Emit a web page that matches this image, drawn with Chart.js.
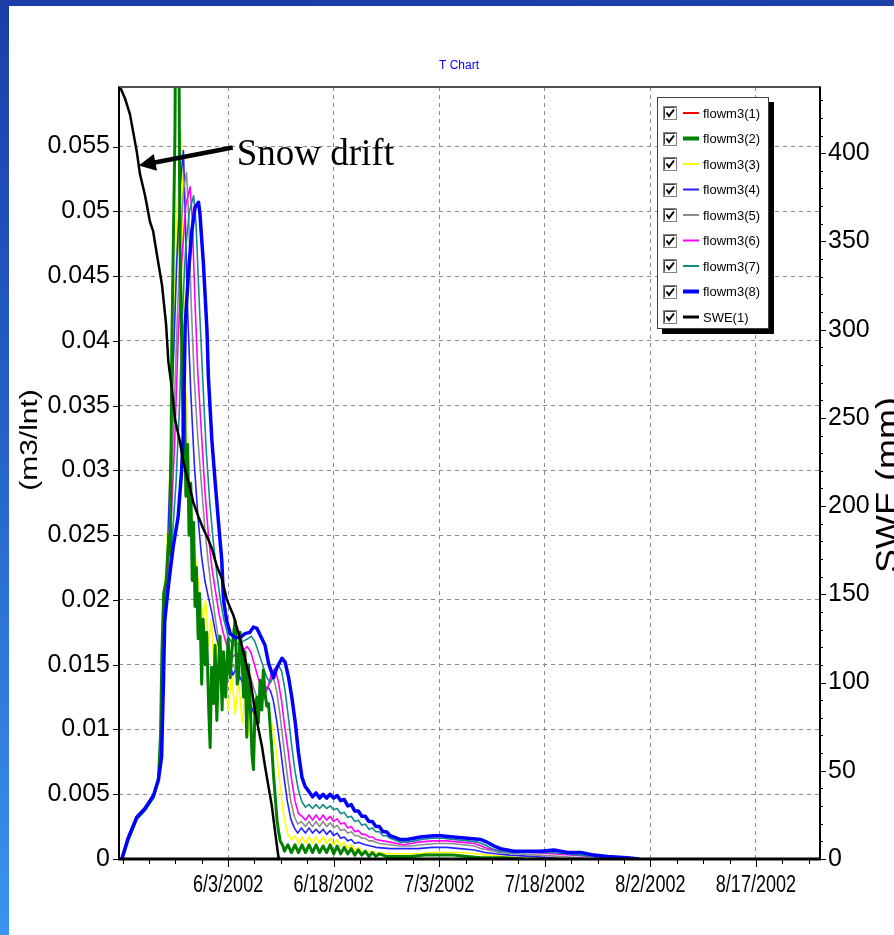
<!DOCTYPE html>
<html>
<head>
<meta charset="utf-8">
<title>T Chart</title>
<script src="https://cdn.jsdelivr.net/npm/chart.js@4.4.1/dist/chart.umd.min.js"></script>
<style>
  html, body { margin: 0; padding: 0; }
  body { width: 894px; height: 935px; overflow: hidden; position: relative; background: #ffffff; }
  #topBand { position: absolute; left: 0; top: 0; width: 894px; height: 6px; background: linear-gradient(90deg, #1a3ea6, #1b40aa); }
  #leftBand { position: absolute; left: 0; top: 0; width: 9px; height: 935px; background: linear-gradient(180deg, #1b3fa6 0%, #2560c6 45%, #3a93f2 100%); }
  #chart { position: absolute; left: 0; top: 0; }
</style>
</head>
<body>
<div id="topBand"></div>
<div id="leftBand"></div>
<canvas id="chart" width="894" height="935"></canvas>
<script>
// ---- axis ticks (day of year 2002 on the x axis) ----
const dayTicks = [154, 169, 184, 199, 214, 229];
const dayTickLabels = ['6/3/2002', '6/18/2002', '7/3/2002', '7/18/2002', '8/2/2002', '8/17/2002'];
const flowTicks = [0, 0.005, 0.01, 0.015, 0.02, 0.025, 0.03, 0.035, 0.04, 0.045, 0.05, 0.055];
const flowTickLabels = ['0', '0.005', '0.01', '0.015', '0.02', '0.025', '0.03', '0.035', '0.04', '0.045', '0.05', '0.055'];
const sweTicks = [0, 50, 100, 150, 200, 250, 300, 350, 400];
const sweTickLabels = ['0', '50', '100', '150', '200', '250', '300', '350', '400'];

// ---- series names ----
const seriesLabels = ['flowm3(1)', 'flowm3(2)', 'flowm3(3)', 'flowm3(4)', 'flowm3(5)', 'flowm3(6)', 'flowm3(7)', 'flowm3(8)', 'SWE(1)'];

// ---- flow series: [day of year, m3/Int] ----
const flowm3_1 = [[138.9,0],[139.8,0.0015],[141.0,0.0031],[142.2,0.0038],[143.4,0.0048],[144.1,0.0062],[144.4,0.0095],[144.6,0.0160],[144.85,0.0205],[145.2,0.0215],[145.6,0.0250],[145.8,0.0235],[146.0,0.0395],[146.2,0.0468],[146.45,0.0560],[146.6,0.0700],[146.95,0.0700],[147.15,0.0480],[147.4,0.0400],[147.6,0.0330],[147.8,0.0360],[148.0,0.0280],[148.25,0.0320],[148.45,0.0250],[148.7,0.0290],[148.9,0.0215],[149.1,0.0260],[149.3,0.0195],[149.5,0.0225],[149.75,0.0170],[149.95,0.0205],[150.25,0.0135],[150.45,0.0185],[150.75,0.0150],[150.95,0.0175],[151.25,0.0115],[151.45,0.0086],[151.65,0.0148],[151.95,0.0120],[152.15,0.0165],[152.4,0.0107],[152.65,0.0150],[152.85,0.0172],[153.15,0.0115],[153.35,0.0160],[153.65,0.0125],[154.0,0.0170],[154.3,0.0140],[154.6,0.0165],[155.0,0.0184],[155.3,0.0135],[155.5,0.0140],[155.7,0.0175],[155.95,0.0160],[156.2,0.0125],[156.4,0.0160],[156.65,0.0094],[156.9,0.0150],[157.15,0.0120],[157.4,0.0080],[157.6,0.0069],[157.85,0.0120],[158.1,0.0125],[158.3,0.0105],[158.55,0.0138],[158.8,0.0115],[159.0,0.0146],[159.25,0.0128],[159.5,0.0118],[159.75,0.0120],[160.0,0.0100],[160.2,0.0087],[160.45,0.0065],[160.7,0.0048],[160.95,0.0030],[161.15,0.0022],[161.4,0.0014],[161.8,0.0010],[162.0,0.0006],[162.5,0.0011],[163.0,0.0005],[163.5,0.0011],[164.0,0.0005],[164.5,0.0011],[165.0,0.0005],[165.5,0.0011],[166.0,0.0005],[166.5,0.0011],[167.0,0.0005],[167.5,0.0010],[168.0,0.0005],[168.5,0.0011],[169.0,0.0004],[169.5,0.0010],[170.0,0.0004],[170.5,0.0009],[171.0,0.0004],[171.5,0.0008],[172.0,0.0003],[172.5,0.0007],[173.0,0.0003],[173.5,0.0006],[174.0,0.0002],[174.5,0.0005],[175.0,0.0002],[175.5,0.0004],[176.5,0.0002],[178.0,0.0002],[180.0,0.0002],[182.0,0.0003],[184.0,0.0003],[186.0,0.0003],[188.0,0.0002],[190.0,0.0001],[193.0,0.0001],[196.0,0]];

const flowm3_2 = [[138.9,0],[139.8,0.0015],[141.0,0.0031],[142.2,0.0038],[143.4,0.0048],[144.1,0.0062],[144.4,0.0095],[144.6,0.0160],[144.85,0.0205],[145.2,0.0215],[145.6,0.0250],[145.8,0.0235],[146.0,0.0395],[146.2,0.0468],[146.45,0.0560],[146.6,0.0700],[146.95,0.0700],[147.15,0.0480],[147.4,0.0400],[147.6,0.0330],[147.8,0.0360],[148.0,0.0280],[148.25,0.0320],[148.45,0.0250],[148.7,0.0290],[148.9,0.0215],[149.1,0.0260],[149.3,0.0195],[149.5,0.0225],[149.75,0.0170],[149.95,0.0205],[150.25,0.0135],[150.45,0.0185],[150.75,0.0150],[150.95,0.0175],[151.25,0.0115],[151.45,0.0086],[151.65,0.0148],[151.95,0.0120],[152.15,0.0165],[152.4,0.0107],[152.65,0.0150],[152.85,0.0172],[153.15,0.0115],[153.35,0.0160],[153.65,0.0125],[154.0,0.0170],[154.3,0.0140],[154.6,0.0165],[155.0,0.0184],[155.3,0.0135],[155.5,0.0140],[155.7,0.0175],[155.95,0.0160],[156.2,0.0125],[156.4,0.0160],[156.65,0.0094],[156.9,0.0150],[157.15,0.0120],[157.4,0.0080],[157.6,0.0069],[157.85,0.0120],[158.1,0.0125],[158.3,0.0105],[158.55,0.0138],[158.8,0.0115],[159.0,0.0146],[159.25,0.0128],[159.5,0.0118],[159.75,0.0120],[160.0,0.0100],[160.2,0.0087],[160.45,0.0065],[160.7,0.0048],[160.95,0.0030],[161.15,0.0022],[161.4,0.0014],[161.8,0.0010],[162.0,0.0006],[162.5,0.0011],[163.0,0.0005],[163.5,0.0011],[164.0,0.0005],[164.5,0.0011],[165.0,0.0005],[165.5,0.0011],[166.0,0.0005],[166.5,0.0011],[167.0,0.0005],[167.5,0.0010],[168.0,0.0005],[168.5,0.0011],[169.0,0.0004],[169.5,0.0010],[170.0,0.0004],[170.5,0.0009],[171.0,0.0004],[171.5,0.0008],[172.0,0.0003],[172.5,0.0007],[173.0,0.0003],[173.5,0.0006],[174.0,0.0002],[174.5,0.0005],[175.0,0.0002],[175.5,0.0004],[176.5,0.0002],[178.0,0.0002],[180.0,0.0002],[182.0,0.0003],[184.0,0.0003],[186.0,0.0003],[188.0,0.0002],[190.0,0.0001],[193.0,0.0001],[196.0,0]];

const flowm3_3 = [[138.9,0],[139.8,0.0016],[141.0,0.0032],[142.2,0.0039],[143.4,0.0049],[144.1,0.0062],[144.4,0.0090],[144.6,0.0150],[144.85,0.0200],[145.2,0.0225],[145.6,0.0280],[146.0,0.0350],[146.4,0.0430],[146.8,0.0505],[147.1,0.0545],[147.35,0.0560],[147.65,0.0450],[148.0,0.0360],[148.4,0.0300],[148.8,0.0268],[149.2,0.0240],[149.6,0.0220],[150.0,0.0205],[150.4,0.0185],[150.8,0.0200],[151.2,0.0165],[151.6,0.0185],[152.0,0.0148],[152.5,0.0168],[153.0,0.0128],[153.5,0.0152],[154.0,0.0115],[154.5,0.0142],[155.0,0.0112],[155.5,0.0138],[156.0,0.0105],[156.5,0.0128],[157.0,0.0095],[157.5,0.0118],[158.0,0.0108],[158.5,0.0126],[159.0,0.0130],[159.5,0.0122],[160.0,0.0110],[160.4,0.0098],[160.8,0.0085],[161.2,0.0066],[161.6,0.0046],[162.0,0.0030],[162.5,0.0019],[163.0,0.0015],[163.5,0.0018],[164.0,0.0012],[164.5,0.0017],[165.0,0.0012],[165.5,0.0017],[166.0,0.0012],[166.5,0.0017],[167.0,0.0012],[167.5,0.0017],[168.0,0.0012],[168.5,0.0016],[169.0,0.0011],[169.5,0.0015],[170.0,0.0010],[170.5,0.0013],[171.0,0.0008],[171.5,0.0011],[172.0,0.0007],[172.5,0.0009],[173.0,0.0006],[174.0,0.0006],[175.0,0.0005],[177.0,0.0004],[179.0,0.0004],[181.0,0.0004],[183.0,0.0005],[185.0,0.0005],[187.0,0.0005],[189.0,0.0004],[191.0,0.0003],[193.0,0.0002],[196.0,0.0001],[201.0,0.0001],[203.0,0]];

const flowm3_4 = [[138.9,0],[139.8,0.0016],[141.0,0.0032],[142.2,0.0039],[143.4,0.0049],[144.1,0.0061],[144.45,0.0085],[144.65,0.0145],[144.9,0.0195],[145.3,0.0222],[145.7,0.0290],[146.2,0.0380],[146.7,0.0460],[147.2,0.0520],[147.65,0.0547],[147.9,0.0500],[148.2,0.0430],[148.7,0.0360],[149.2,0.0305],[149.7,0.0265],[150.2,0.0235],[150.7,0.0215],[151.2,0.0202],[151.7,0.0190],[152.2,0.0175],[152.7,0.0163],[153.2,0.0153],[153.7,0.0146],[154.2,0.0151],[154.7,0.0142],[155.2,0.0148],[155.7,0.0140],[156.2,0.0135],[156.7,0.0127],[157.2,0.0119],[157.7,0.0112],[158.2,0.0114],[158.7,0.0123],[159.2,0.0130],[159.6,0.0133],[160.0,0.0130],[160.4,0.0123],[160.9,0.0107],[161.4,0.0087],[161.9,0.0065],[162.4,0.0045],[162.9,0.0031],[163.4,0.0024],[163.9,0.0020],[164.4,0.0024],[165.0,0.0020],[165.5,0.0024],[166.0,0.0020],[166.5,0.0023],[167.0,0.0020],[167.5,0.0023],[168.0,0.0019],[168.5,0.0022],[169.0,0.0018],[169.5,0.0020],[170.0,0.0016],[170.5,0.0017],[171.0,0.0014],[171.5,0.0015],[172.0,0.0012],[172.5,0.0013],[173.5,0.0011],[175.0,0.0009],[177.0,0.0008],[179.0,0.0008],[181.0,0.0008],[183.0,0.0009],[185.0,0.0009],[187.0,0.0008],[189.0,0.0007],[190.5,0.0005],[192.0,0.0004],[194.0,0.0003],[197.0,0.0002],[200.0,0.0001],[202.0,0]];

const flowm3_5 = [[138.9,0],[139.8,0.0016],[141.0,0.0032],[142.2,0.0039],[143.4,0.0049],[144.1,0.0061],[144.5,0.0082],[144.7,0.0140],[144.95,0.0192],[145.35,0.0218],[145.8,0.0270],[146.3,0.0340],[146.8,0.0420],[147.3,0.0485],[147.7,0.0518],[148.1,0.0530],[148.4,0.0495],[148.75,0.0430],[149.2,0.0370],[149.7,0.0325],[150.2,0.0290],[150.7,0.0255],[151.2,0.0228],[151.7,0.0205],[152.2,0.0185],[152.7,0.0168],[153.2,0.0157],[153.7,0.0150],[154.2,0.0146],[154.7,0.0150],[155.2,0.0145],[155.7,0.0151],[156.2,0.0154],[156.7,0.0149],[157.2,0.0140],[157.7,0.0131],[158.2,0.0123],[158.7,0.0120],[159.2,0.0125],[159.7,0.0134],[160.1,0.0140],[160.4,0.0141],[160.9,0.0130],[161.4,0.0110],[161.9,0.0087],[162.4,0.0065],[162.9,0.0045],[163.4,0.0033],[163.9,0.0027],[164.4,0.0029],[165.0,0.0025],[165.5,0.0029],[166.0,0.0025],[166.5,0.0029],[167.0,0.0025],[167.5,0.0029],[168.0,0.0025],[168.5,0.0028],[169.0,0.0024],[169.5,0.0026],[170.0,0.0022],[170.5,0.0023],[171.0,0.0020],[171.5,0.0021],[172.0,0.0018],[172.5,0.0018],[173.0,0.0016],[173.5,0.0016],[174.0,0.0014],[174.5,0.0014],[175.5,0.0012],[177.0,0.0011],[178.5,0.0010],[180.0,0.0010],[181.5,0.0011],[183.5,0.0012],[185.5,0.0012],[187.5,0.0011],[189.0,0.0010],[190.0,0.0008],[191.0,0.0007],[192.5,0.0005],[195.0,0.0004],[198.0,0.0003],[201.0,0.0002],[204.0,0.0001],[206.0,0]];

const flowm3_6 = [[138.9,0],[139.8,0.0017],[141.0,0.0033],[142.2,0.0040],[143.4,0.0050],[144.1,0.0062],[144.5,0.0082],[144.75,0.0140],[145.0,0.0190],[145.4,0.0215],[145.9,0.0260],[146.4,0.0320],[146.9,0.0400],[147.4,0.0460],[148.0,0.0505],[148.6,0.0519],[148.9,0.0495],[149.3,0.0430],[149.7,0.0375],[150.2,0.0330],[150.7,0.0285],[151.2,0.0250],[151.7,0.0225],[152.2,0.0207],[152.7,0.0190],[153.2,0.0177],[153.7,0.0167],[154.2,0.0160],[154.7,0.0156],[155.2,0.0159],[155.7,0.0155],[156.2,0.0161],[156.7,0.0164],[157.2,0.0160],[157.7,0.0151],[158.2,0.0141],[158.7,0.0132],[159.2,0.0128],[159.7,0.0133],[160.1,0.0142],[160.6,0.0147],[161.1,0.0138],[161.6,0.0122],[162.0,0.0104],[162.5,0.0085],[163.0,0.0062],[163.5,0.0045],[164.0,0.0035],[164.5,0.0033],[165.0,0.0030],[165.5,0.0034],[166.0,0.0030],[166.5,0.0034],[167.0,0.0030],[167.5,0.0034],[168.0,0.0030],[168.5,0.0033],[169.0,0.0029],[169.5,0.0031],[170.0,0.0027],[170.5,0.0028],[171.0,0.0024],[171.5,0.0025],[172.0,0.0021],[172.5,0.0022],[173.0,0.0019],[173.5,0.0019],[174.0,0.0017],[174.5,0.0017],[175.0,0.0015],[176.0,0.0014],[177.0,0.0013],[178.0,0.0012],[179.0,0.0011],[180.0,0.0012],[181.0,0.0013],[183.0,0.0014],[185.0,0.0014],[187.0,0.0013],[189.0,0.0012],[190.0,0.0010],[191.0,0.0008],[192.0,0.0007],[194.0,0.0006],[197.0,0.0005],[200.0,0.0004],[203.0,0.0003],[205.5,0.0002],[207.5,0.0001],[209.0,0]];

const flowm3_7 = [[138.9,0],[139.8,0.0016],[141.0,0.0032],[142.2,0.0039],[143.4,0.0049],[144.1,0.0061],[144.55,0.0080],[144.8,0.0135],[145.0,0.0186],[145.5,0.0212],[146.1,0.0250],[146.6,0.0290],[147.1,0.0350],[147.5,0.0420],[147.95,0.0470],[148.5,0.0500],[149.1,0.0512],[149.45,0.0490],[149.9,0.0430],[150.4,0.0370],[150.9,0.0315],[151.4,0.0275],[151.9,0.0245],[152.4,0.0220],[152.9,0.0200],[153.4,0.0185],[154.0,0.0172],[154.7,0.0165],[155.4,0.0166],[156.1,0.0168],[156.8,0.0170],[157.3,0.0172],[157.8,0.0168],[158.3,0.0160],[158.9,0.0150],[159.5,0.0140],[160.0,0.0136],[160.5,0.0142],[161.1,0.0150],[161.6,0.0145],[162.1,0.0130],[162.6,0.0108],[163.05,0.0087],[163.5,0.0068],[164.0,0.0053],[164.5,0.0044],[165.0,0.0040],[165.5,0.0042],[166.0,0.0039],[166.5,0.0042],[167.0,0.0039],[167.5,0.0042],[168.0,0.0039],[168.5,0.0041],[169.0,0.0038],[169.5,0.0039],[170.0,0.0035],[170.5,0.0036],[171.0,0.0032],[171.5,0.0033],[172.0,0.0029],[172.5,0.0030],[173.0,0.0026],[173.5,0.0027],[174.0,0.0023],[174.5,0.0024],[175.0,0.0021],[175.5,0.0021],[176.0,0.0018],[176.5,0.0018],[177.0,0.0016],[177.5,0.0015],[178.5,0.0013],[179.5,0.0013],[180.5,0.0014],[181.5,0.0015],[183.0,0.0016],[184.5,0.0016],[186.0,0.0015],[188.0,0.0014],[189.5,0.0013],[190.5,0.0011],[191.5,0.0008],[192.5,0.0006],[194.5,0.0005],[198.0,0.0005],[200.0,0.0005],[202.0,0.0004],[204.0,0.0003],[206.0,0.0002],[208.0,0.0001],[210.0,0]];

const flowm3_8 = [[138.9,0],[139.8,0.0016],[141.0,0.0032],[142.2,0.0039],[143.4,0.0049],[144.1,0.0061],[144.55,0.0079],[144.8,0.0133],[145.0,0.0184],[145.5,0.0210],[146.2,0.0241],[146.9,0.0264],[147.4,0.0300],[147.65,0.0331],[147.9,0.0412],[148.35,0.0451],[148.85,0.0485],[149.3,0.0503],[149.8,0.0507],[150.0,0.0498],[150.5,0.0459],[151.0,0.0408],[151.2,0.0372],[151.7,0.0323],[152.15,0.0292],[152.65,0.0259],[153.1,0.0231],[153.35,0.0200],[153.8,0.0184],[154.3,0.0174],[155.0,0.0171],[155.7,0.0171],[156.4,0.0174],[157.1,0.0175],[157.6,0.0179],[158.1,0.0178],[158.55,0.0173],[159.25,0.0165],[159.75,0.0151],[160.45,0.0140],[160.95,0.0148],[161.65,0.0155],[162.1,0.0152],[162.6,0.0140],[163.05,0.0125],[163.55,0.0105],[164.0,0.0082],[164.5,0.0063],[164.95,0.0056],[165.5,0.0052],[166.0,0.0048],[166.5,0.0051],[167.0,0.0047],[167.5,0.0050],[168.0,0.0047],[168.5,0.0050],[169.0,0.0047],[169.5,0.0049],[170.0,0.0045],[170.5,0.0046],[171.0,0.0041],[171.5,0.0042],[172.0,0.0037],[172.5,0.0037],[173.0,0.0033],[173.5,0.0033],[174.0,0.0029],[174.5,0.0029],[175.0,0.0025],[175.5,0.0025],[176.0,0.0021],[176.5,0.0021],[177.0,0.0018],[177.5,0.0017],[178.5,0.0015],[179.4,0.0015],[180.4,0.0016],[181.3,0.0017],[183.2,0.0018],[184.2,0.0018],[186.0,0.0017],[188.0,0.0016],[189.9,0.0015],[190.8,0.0013],[191.8,0.0010],[192.7,0.0008],[194.6,0.0006],[198.4,0.0006],[200.3,0.0007],[202.2,0.0005],[204.1,0.0005],[206.0,0.0003],[207.9,0.0002],[210.7,0.0001],[212.4,0]];

// ---- snow water equivalent: [day of year, mm] ----
const swe_1 = [[138.5,439],[139.35,431],[140.06,422],[141.02,401],[141.49,388],[142.2,376],[142.91,361],[143.34,356],[143.91,342],[144.62,325],[145.19,303],[145.51,282],[146.0,267],[146.47,249],[147.18,236],[147.65,225],[148.13,217],[148.6,210],[149.07,202],[149.78,194],[150.49,187],[151.2,181],[151.69,176],[152.4,166],[153.11,159],[153.82,147],[154.76,138],[155.47,128],[155.95,121],[156.67,109],[157.13,102],[157.85,83],[158.8,64],[159.27,52],[159.74,41],[160.22,30],[160.69,15],[161.16,1],[161.4,0]];

// ---- styling of each series (same order as seriesLabels) ----
const seriesColors = ['#ff0000', '#008000', '#ffff00', '#2222ff', '#8c8c8c', '#ff00ff', '#168a8a', '#0000ff', '#000000'];
const seriesWidths = [1, 3, 1.6, 1.6, 1.6, 1.6, 1.6, 3.5, 2.5];
const legendWidths = [2, 4, 2, 2, 2, 2, 2, 4, 3];
const drawOrder = [8, 2, 7, 6, 5, 4, 3, 1, 0];   // lower = drawn on top

const seriesData = [flowm3_1, flowm3_2, flowm3_3, flowm3_4, flowm3_5, flowm3_6, flowm3_7, flowm3_8, swe_1];

const datasets = seriesData.map((pts, i) => ({
  label: seriesLabels[i],
  data: pts.map(([x, y]) => ({ x, y })),
  yAxisID: i === 8 ? 'y2' : 'y',
  borderColor: seriesColors[i],
  backgroundColor: seriesColors[i],
  borderWidth: seriesWidths[i],
  borderJoinStyle: 'round',
  pointRadius: 0,
  tension: 0,
  fill: false,
  order: drawOrder[i]
}));

const sansFont = "'Liberation Sans', Arial, sans-serif";

function line(ctx, x1, y1, x2, y2) {
  ctx.beginPath(); ctx.moveTo(x1, y1); ctx.lineTo(x2, y2); ctx.stroke();
}

// rotated axis title, reading bottom to top; squeeze narrows the glyph height
function verticalTitle(ctx, text, x, y, size, squeeze) {
  ctx.save();
  ctx.translate(x, y);
  ctx.rotate(-Math.PI / 2);
  ctx.scale(1, squeeze);
  ctx.font = size + "px " + sansFont;
  ctx.textAlign = 'center'; ctx.textBaseline = 'alphabetic';
  ctx.fillText(text, 0, 0);
  ctx.restore();
}

// frame, tick marks, legend, titles and the annotation
const decorations = {
  id: 'decorations',
  afterDatasetsDraw(chart) {
    const { ctx, chartArea: a, scales } = chart;
    const x = scales.x, y = scales.y, y2 = scales.y2;
    ctx.save();
    ctx.lineCap = 'butt';

    // tick marks
    ctx.strokeStyle = '#000';
    ctx.lineWidth = 1;
    flowTicks.forEach(v => { const p = Math.round(y.getPixelForValue(v)) + 0.5; line(ctx, a.left - 6, p, a.left, p); });
    for (let v = 0; v <= 430; v += 10) {
      const p = Math.round(y2.getPixelForValue(v)) + 0.5;
      line(ctx, a.right, p, a.right + (v % 50 === 0 ? 6 : 3), p);
    }
    for (let d = dayTicks[0] - 15; d <= x.max; d += 3.75) {
      if (d < x.min) continue;
      const p = Math.round(x.getPixelForValue(d)) + 0.5;
      const major = dayTicks.includes(d);
      line(ctx, p, a.bottom, p, a.bottom + (major ? 8 : 5));
    }

    // plot frame
    ctx.strokeStyle = '#505050'; ctx.lineWidth = 2;
    line(ctx, a.left - 1, a.top, a.right + 1, a.top);
    ctx.strokeStyle = '#000';
    line(ctx, a.left, a.top, a.left, a.bottom);
    line(ctx, a.right, a.top, a.right, a.bottom);
    ctx.lineWidth = 3;
    line(ctx, a.left - 1, a.bottom, a.right + 1, a.bottom);
    ctx.restore();
  },
  afterDraw(chart) {
    const { ctx, chartArea: a, scales } = chart;
    ctx.save();

    // date labels, set in a condensed face
    ctx.fillStyle = '#000';
    ctx.font = "22px " + sansFont;
    ctx.textAlign = 'center'; ctx.textBaseline = 'alphabetic';
    dayTicks.forEach((d, i) => {
      const px = scales.x.getPixelForValue(d);
      ctx.save(); ctx.translate(px, a.bottom + 33); ctx.scale(0.82, 1.05);
      ctx.fillText(dayTickLabels[i], 0, 0);
      ctx.restore();
    });

    // chart title
    ctx.fillStyle = '#0000ff';
    ctx.font = "12px " + sansFont;
    ctx.textAlign = 'center'; ctx.textBaseline = 'middle';
    ctx.fillText('T Chart', 459, 66);

    // axis titles
    ctx.fillStyle = '#000';
    verticalTitle(ctx, '(m3/lnt)', 37, 440, 30, 0.78);
    verticalTitle(ctx, 'SWE (mm)', 898, 485, 36, 0.85);

    // legend box with shadow
    const lx = 657, ly = 97, lw = 112, lh = 232;
    ctx.fillStyle = '#000';
    ctx.fillRect(lx + 5, ly + 5, lw, lh);
    ctx.fillStyle = '#fff';
    ctx.fillRect(lx, ly, lw, lh);
    ctx.strokeStyle = '#404040'; ctx.lineWidth = 1;
    ctx.strokeRect(lx + 0.5, ly + 0.5, lw - 1, lh - 1);
    ctx.font = "13px " + sansFont;
    ctx.textAlign = 'left'; ctx.textBaseline = 'middle';
    seriesLabels.forEach((name, i) => {
      const ry = ly + 16 + i * 25.5;
      const cx = lx + 6, cy = Math.round(ry - 7);
      ctx.fillStyle = '#fff'; ctx.fillRect(cx, cy, 14, 14);
      ctx.strokeStyle = '#808080'; ctx.lineWidth = 1;
      ctx.strokeRect(cx + 0.5, cy + 0.5, 13, 13);
      ctx.strokeStyle = '#404040';
      line(ctx, cx + 1.5, cy + 12.5, cx + 1.5, cy + 1.5); line(ctx, cx + 1.5, cy + 1.5, cx + 12.5, cy + 1.5);
      ctx.strokeStyle = '#000'; ctx.lineWidth = 2;
      ctx.beginPath(); ctx.moveTo(cx + 3.5, cy + 6.5); ctx.lineTo(cx + 6, cy + 10); ctx.lineTo(cx + 11, cy + 3.5); ctx.stroke();
      ctx.strokeStyle = seriesColors[i]; ctx.lineWidth = legendWidths[i];
      line(ctx, lx + 26, ry, lx + 42, ry);
      ctx.fillStyle = '#000';
      ctx.fillText(name, lx + 46, ry + 1);
    });

    // "Snow drift" arrow, pointing at the SWE curve
    const tipX = scales.x.getPixelForValue(141.3), tipY = scales.y2.getPixelForValue(393);
    const tailX = tipX + 94, tailY = tipY - 18;
    const len = Math.hypot(tailX - tipX, tailY - tipY);
    const ux = (tipX - tailX) / len, uy = (tipY - tailY) / len;
    const bx = tipX - ux * 17, by = tipY - uy * 17;
    ctx.strokeStyle = '#000'; ctx.lineWidth = 4.5;
    line(ctx, tailX, tailY, bx + ux * 2, by + uy * 2);
    ctx.fillStyle = '#000';
    ctx.beginPath();
    ctx.moveTo(tipX, tipY);
    ctx.lineTo(bx - uy * 8.5, by + ux * 8.5);
    ctx.lineTo(bx + uy * 8.5, by - ux * 8.5);
    ctx.closePath(); ctx.fill();
    ctx.font = "37px 'Liberation Serif', 'Times New Roman', serif";
    ctx.textAlign = 'left'; ctx.textBaseline = 'alphabetic';
    ctx.fillText('Snow drift', tailX + 4, tailY + 17);
    ctx.restore();
  }
};

Chart.defaults.color = '#000';
Chart.defaults.font.family = sansFont;

new Chart(document.getElementById('chart'), {
  type: 'line',
  data: { datasets },
  options: {
    responsive: false,
    animation: false,
    events: [],
    layout: { padding: { top: 87, left: 0, right: 0, bottom: 0 } },
    plugins: { legend: { display: false }, tooltip: { enabled: false }, title: { display: false } },
    scales: {
      x: {
        type: 'linear', position: 'bottom', min: 138.5, max: 238.1,
        afterBuildTicks: s => { s.ticks = dayTicks.map(v => ({ value: v })); },
        afterFit: s => { s.height = 76; },
        ticks: { display: false },
        grid: { color: '#8a8a8a', lineWidth: 1, drawTicks: false },
        border: { display: false, dash: [4, 4] }
      },
      y: {
        type: 'linear', position: 'left', min: 0, max: 0.0596,
        afterBuildTicks: s => { s.ticks = flowTicks.map(v => ({ value: v })); },
        afterFit: s => { s.width = 119; },
        ticks: { autoSkip: false, padding: 9, font: { size: 25 }, callback: (v, i) => flowTickLabels[i] },
        grid: { color: '#8a8a8a', lineWidth: 1, drawTicks: false },
        border: { display: false, dash: [4, 4] }
      },
      y2: {
        type: 'linear', position: 'right', min: 0, max: 437.5,
        afterBuildTicks: s => { s.ticks = sweTicks.map(v => ({ value: v })); },
        afterFit: s => { s.width = 74; },
        ticks: { autoSkip: false, padding: 8, font: { size: 25 }, callback: (v, i) => sweTickLabels[i] },
        grid: { drawOnChartArea: false, drawTicks: false },
        border: { display: false }
      }
    }
  },
  plugins: [decorations]
});
</script>
</body>
</html>
